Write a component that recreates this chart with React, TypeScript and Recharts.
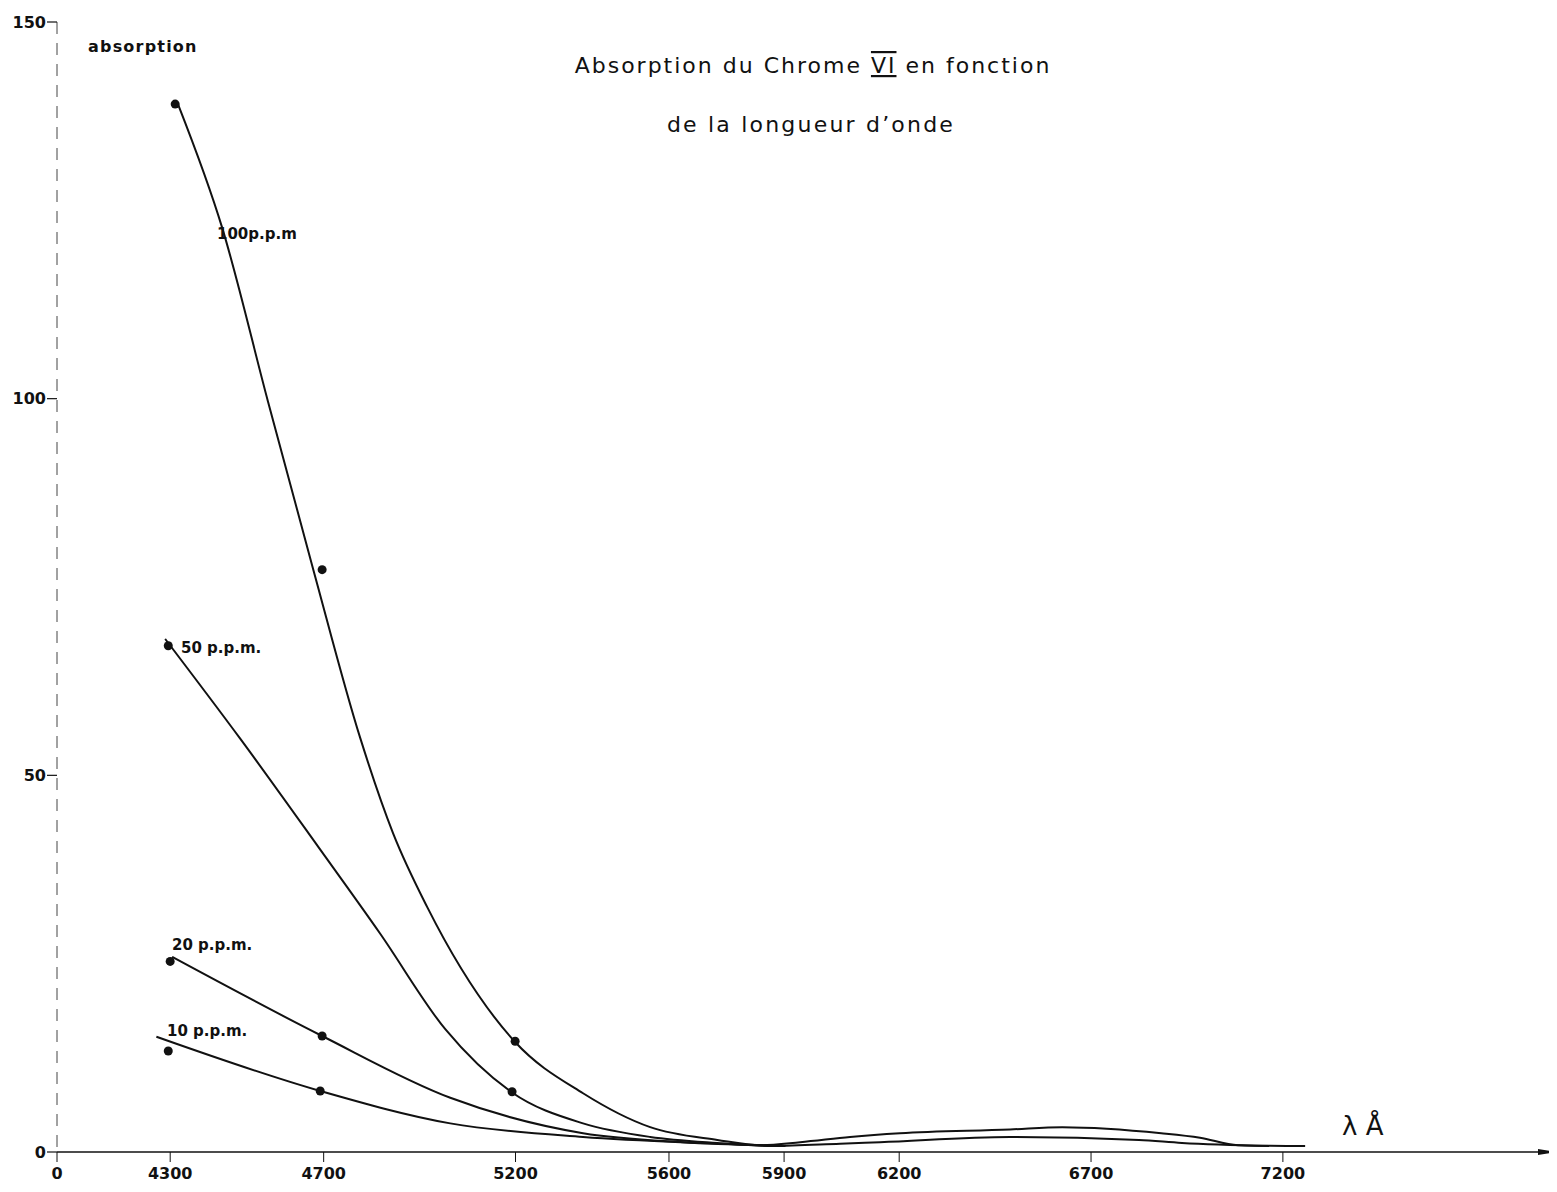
import React from "react";
import {
  ComposedChart,
  Line,
  Scatter,
  XAxis,
  YAxis,
} from "recharts";

// ---- data (wavelength in Å, absorption) ----
const xTicks = [4005, 4300, 4700, 5200, 5600, 5900, 6200, 6700, 7200];
const yTicks = [0, 50, 100, 150];

const curve100X = [4321, 4436, 4555, 4673, 4795, 4881, 4970, 5199, 5376, 5551, 5726, 5840, 5942, 6072, 6202, 6489, 6625, 6883, 6984, 7083, 7258];
const curve100Y = [139.0, 122.6, 99.6, 77.3, 55.0, 42.3, 32.5, 14.6, 7.8, 3.3, 1.6, 0.9, 1.3, 2.0, 2.5, 3.0, 3.3, 2.5, 1.9, 0.9, 0.8];

const curve50X = [4287, 4482, 4686, 4847, 5017, 5191, 5376, 5551, 5726, 5870, 6046, 6150, 6489, 6825, 6937, 7164];
const curve50Y = [68.1, 54.9, 40.5, 29.0, 16.3, 7.9, 3.8, 2.0, 1.2, 0.8, 1.1, 1.3, 2.0, 1.6, 1.2, 0.8];

const curve20X = [4305, 4696, 5030, 5376, 5637, 5903];
const curve20Y = [25.9, 15.4, 7.2, 2.5, 1.3, 0.8];

const curve10X = [4264, 4691, 5030, 5376, 5681, 5903];
const curve10Y = [15.3, 8.1, 3.8, 2.0, 1.2, 0.8];

const points100X = [4313, 4696, 5199];
const points100Y = [139.1, 77.3, 14.7];
const points50X = [4295, 5191];
const points50Y = [67.2, 8.0];
const points20X = [4300, 4696];
const points20Y = [25.3, 15.4];
const points10X = [4295, 4691];
const points10Y = [13.4, 8.1];

const zip = (xs: number[], ys: number[]) => xs.map((x, i) => ({ x, y: ys[i] }));

const c100 = zip(curve100X, curve100Y);
const c50 = zip(curve50X, curve50Y);
const c20 = zip(curve20X, curve20Y);
const c10 = zip(curve10X, curve10Y);
const markers = [
  ...zip(points100X, points100Y),
  ...zip(points50X, points50Y),
  ...zip(points20X, points20Y),
  ...zip(points10X, points10Y),
];

const FONT = "'DejaVu Sans', sans-serif";
const INK = "#111";

const W = 1549;
const H = 1184;

export default function App() {
  return (
    <div style={{ position: "relative", width: W, height: H, background: "#fff" }}>
      <ComposedChart
        width={W}
        height={H}
        margin={{ top: 14, right: 4, bottom: 0, left: 0 }}
      >
        <XAxis
          dataKey="x"
          type="number"
          domain={[4005, 7904]}
          ticks={xTicks}
          allowDataOverflow
          height={40}
          tickSize={10}
          tickMargin={6}
          tickFormatter={(v: number) => (v === 4005 ? "0" : String(v))}
          axisLine={{ stroke: INK, strokeWidth: 1.5 }}
          tickLine={{ stroke: INK, strokeWidth: 1 }}
          tick={{ fill: INK, fontSize: 16, fontFamily: FONT, fontWeight: "bold" }}
          interval={0}
        />
        <YAxis
          dataKey="y"
          type="number"
          domain={[0, 150]}
          ticks={yTicks}
          width={49}
          tickSize={10}
          tickMargin={1}
          axisLine={{ stroke: "#444", strokeWidth: 1, strokeDasharray: "12 9" }}
          tickLine={{ stroke: INK, strokeWidth: 1.2 }}
          tick={{ fill: INK, fontSize: 16, fontFamily: FONT, fontWeight: "bold" }}
        />
        <Line data={c100} dataKey="y" type="monotone" stroke={INK} strokeWidth={2} dot={false} isAnimationActive={false} />
        <Line data={c50} dataKey="y" type="monotone" stroke={INK} strokeWidth={2} dot={false} isAnimationActive={false} />
        <Line data={c20} dataKey="y" type="monotone" stroke={INK} strokeWidth={2} dot={false} isAnimationActive={false} />
        <Line data={c10} dataKey="y" type="monotone" stroke={INK} strokeWidth={2} dot={false} isAnimationActive={false} />
        <Scatter
          data={markers}
          dataKey="y"
          fill={INK}
          isAnimationActive={false}
          shape={(p: any) => <circle cx={p.cx} cy={p.cy} r={4.5} fill={INK} />}
        />
      </ComposedChart>
      <svg
        width={W}
        height={H}
        style={{ position: "absolute", left: 0, top: 0, pointerEvents: "none" }}
        fontFamily={FONT}
        fill={INK}
      >
        <polygon points="1530,1141 1549,1144 1530,1147" fill={INK} />
        <text x={805} y={65} textAnchor="middle" fontSize={22} letterSpacing={2}>
          Absorption du Chrome{" "}
          <tspan textDecoration="underline overline">VI</tspan> en fonction
        </text>
        <text x={803} y={124} textAnchor="middle" fontSize={22} letterSpacing={2.2}>
          de la longueur d’onde
        </text>
        <text x={80} y={44} fontSize={16} fontWeight="bold" letterSpacing={1.2}>
          absorption
        </text>
        <text x={209} y={231} fontSize={15} fontWeight="bold">
          100p.p.m
        </text>
        <text x={173} y={645} fontSize={15} fontWeight="bold">
          50 p.p.m.
        </text>
        <text x={164} y={942} fontSize={15} fontWeight="bold">
          20 p.p.m.
        </text>
        <text x={159} y={1028} fontSize={15} fontWeight="bold">
          10 p.p.m.
        </text>
        <text x={1334} y={1127} fontSize={26}>
          λ Å
        </text>
      </svg>
    </div>
  );
}
